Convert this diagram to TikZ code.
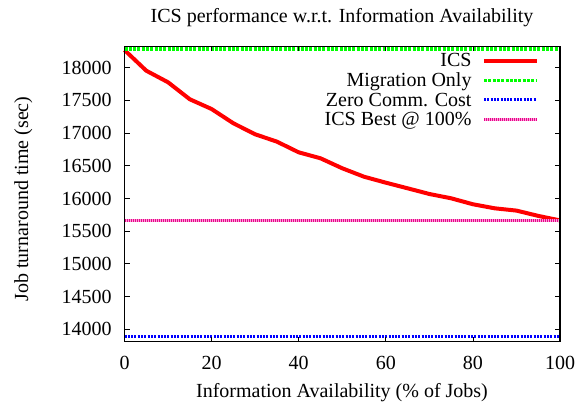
\documentclass[tikz,border=0pt]{standalone}
\usepackage{fontspec}
\setmainfont{Liberation Serif}
\tikzset{
  lbl/.style={font=\fontsize{20}{23}\selectfont, inner sep=0pt},
  icsline/.style={red, line width=4pt, line join=round},
  migline/.style={green, line width=3.5pt, dash pattern=on 3pt off 1.3pt},
  zeroline/.style={blue, line width=3pt, dash pattern=on 2pt off 1.3pt},
  bestline/.style={magenta, line width=3pt, dash pattern=on 1pt off 1pt,
    preaction={draw=magenta!35, line width=3pt, solid}},
}
\begin{document}
\begin{tikzpicture}
\useasboundingbox (0,0) rectangle (579pt,402pt);
\node[lbl, anchor=base] (title) at (342pt,379.3pt) {ICS performance w.r.t. Information Availability};
\node[lbl, anchor=base, rotate=90] (ylab) at (28pt,203pt) {Job turnaround time (sec)};
\node[lbl, anchor=base] (xlab) at (342pt,4.3pt) {Information Availability (\% of Jobs)};
% data in units of 100 sec
\begin{scope}[shift={(124.5pt,-842.9pt)}, x=4.355pt, y=6.54pt]
\draw[icsline] plot coordinates {(0,182.70) (5,179.54) (10,177.77) (15,175.17) (20,173.68)
  (25,171.50) (30,169.82) (35,168.69) (40,167.06) (45,166.15) (50,164.62) (55,163.33)
  (60,162.42) (65,161.56) (70,160.69) (75,160.03) (80,159.12) (85,158.50) (90,158.15)
  (95,157.34) (100,156.65)};
\draw[migline] (0,182.86) -- (100,182.86);
\draw[zeroline] (0,138.87) -- (100,138.87);
\draw[bestline] (0,156.62) -- (100,156.62);
% frame and ticks
\draw[line width=1.2pt] (0,138.1) rectangle (100,183.3);
\foreach \v in {140,145,...,180}{
  \draw[line width=0.8pt] (0,\v) -- ++(5pt,0);
  \draw[line width=0.8pt] (100,\v) -- ++(-5pt,0);
  \node[lbl, anchor=east, xshift=-12.8pt] (yt\v) at (0,\v) {\v00};
}
\foreach \x in {0,20,...,100}{
  \draw[line width=0.8pt] (\x,138.1) -- ++(0,5pt);
  \draw[line width=0.8pt] (\x,183.3) -- ++(0,-5pt);
  \node[lbl, anchor=base, yshift=-27.6pt] (xt\x) at (\x,138.1) {\x};
}
\end{scope}
% key
\node[lbl, anchor=base east] (kics) at (471.7pt,335.0pt) {ICS};
\node[lbl, anchor=base east] (kmig) at (471.7pt,315.4pt) {Migration Only};
\node[lbl, anchor=base east] (kzero) at (471.7pt,295.8pt) {Zero Comm. Cost};
\node[lbl, anchor=base east] (kbest) at (471.7pt,276.2pt) {ICS Best @ 100\%};
\draw[icsline] (484pt,341.3pt) -- (536.7pt,341.3pt);
\draw[migline] (484pt,321.7pt) -- (536.7pt,321.7pt);
\draw[zeroline] (484pt,302.1pt) -- (536.7pt,302.1pt);
\draw[bestline] (484pt,282.5pt) -- (536.7pt,282.5pt);
\end{tikzpicture}
\end{document}
